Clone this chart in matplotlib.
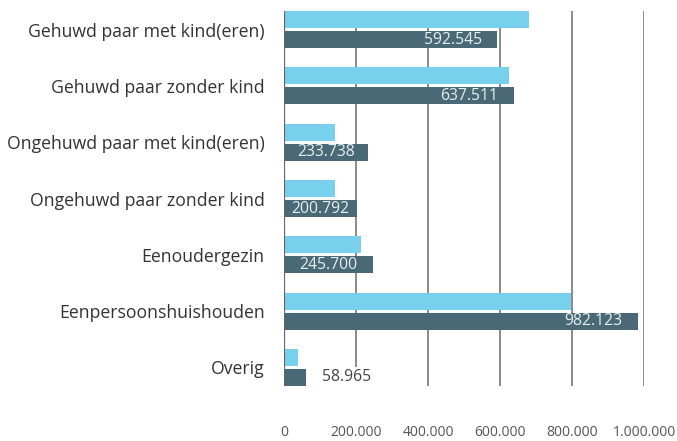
import numpy as np
import matplotlib
matplotlib.use("Agg")
import matplotlib.pyplot as plt

plt.rcParams['font.family'] = ['Open Sans', 'DejaVu Sans']

categories = ['Gehuwd paar met kind(eren)', 'Gehuwd paar zonder kind',
              'Ongehuwd paar met kind(eren)', 'Ongehuwd paar zonder kind',
              'Eenoudergezin', 'Eenpersoonshuishouden', 'Overig']
light_values = [680000, 624000, 141000, 140000, 213000, 797000, 38000]
dark_values = [592545, 637511, 233738, 200792, 245700, 982123, 58965]
dark_labels = ['592.545', '637.511', '233.738', '200.792', '245.700', '982.123', '58.965']
x_ticks = [0, 200000, 400000, 600000, 800000, 1000000]
x_tick_labels = ['0', '200.000', '400.000', '600.000', '800.000', '1.000.000']

light_color = '#77d1ec'
dark_color = '#486975'

fig = plt.figure(figsize=(6.77, 4.41), dpi=100)
ax = fig.add_axes([284.3 / 677, 1 - 386 / 441, (644 - 284.3) / 677, 375 / 441])

y = np.arange(len(categories))
h = 0.30
off = 0.178
ax.barh(y - off, light_values, height=h, color=light_color, zorder=2)
ax.barh(y + off, dark_values, height=h, color=dark_color, zorder=2)

ax.set_xlim(0, 1000000)
ax.set_ylim(6.33, -0.33)
ax.set_xticks(x_ticks)
ax.set_xticklabels(x_tick_labels, fontsize=10, color='#555555')
ax.set_yticks(y)
ax.set_yticklabels(categories, fontsize=12.7, color='#333333')
ax.tick_params(axis='x', length=0, pad=28)
ax.tick_params(axis='y', length=0, pad=14)
for s in ax.spines.values():
    s.set_visible(False)
ax.grid(axis='x', color='#8a8a8a', linewidth=1.4, zorder=1)
ax.axvline(0, color='#666666', linewidth=1.6, zorder=3)

# px -> data
px = 1000000 / (644 - 284.3)
text_w = 58
for yi, v, lab in zip(y, dark_values, dark_labels):
    bar_px = v / px
    if bar_px > text_w + 10:
        offset = min(15, (bar_px - text_w) / 2)
        ax.annotate(lab, (v, yi + off), xytext=(-offset * 0.72, 0), textcoords='offset points',
                    ha='right', va='center', fontsize=11.3, color='#e8eef0', zorder=4)
    else:
        ax.annotate(lab, (v, yi + off), xytext=(12, 0), textcoords='offset points',
                    ha='left', va='center', fontsize=11.3, color='#444444', zorder=4,
                    bbox=dict(facecolor='white', edgecolor='none', pad=2))

fig.savefig('out.png', dpi=100)
